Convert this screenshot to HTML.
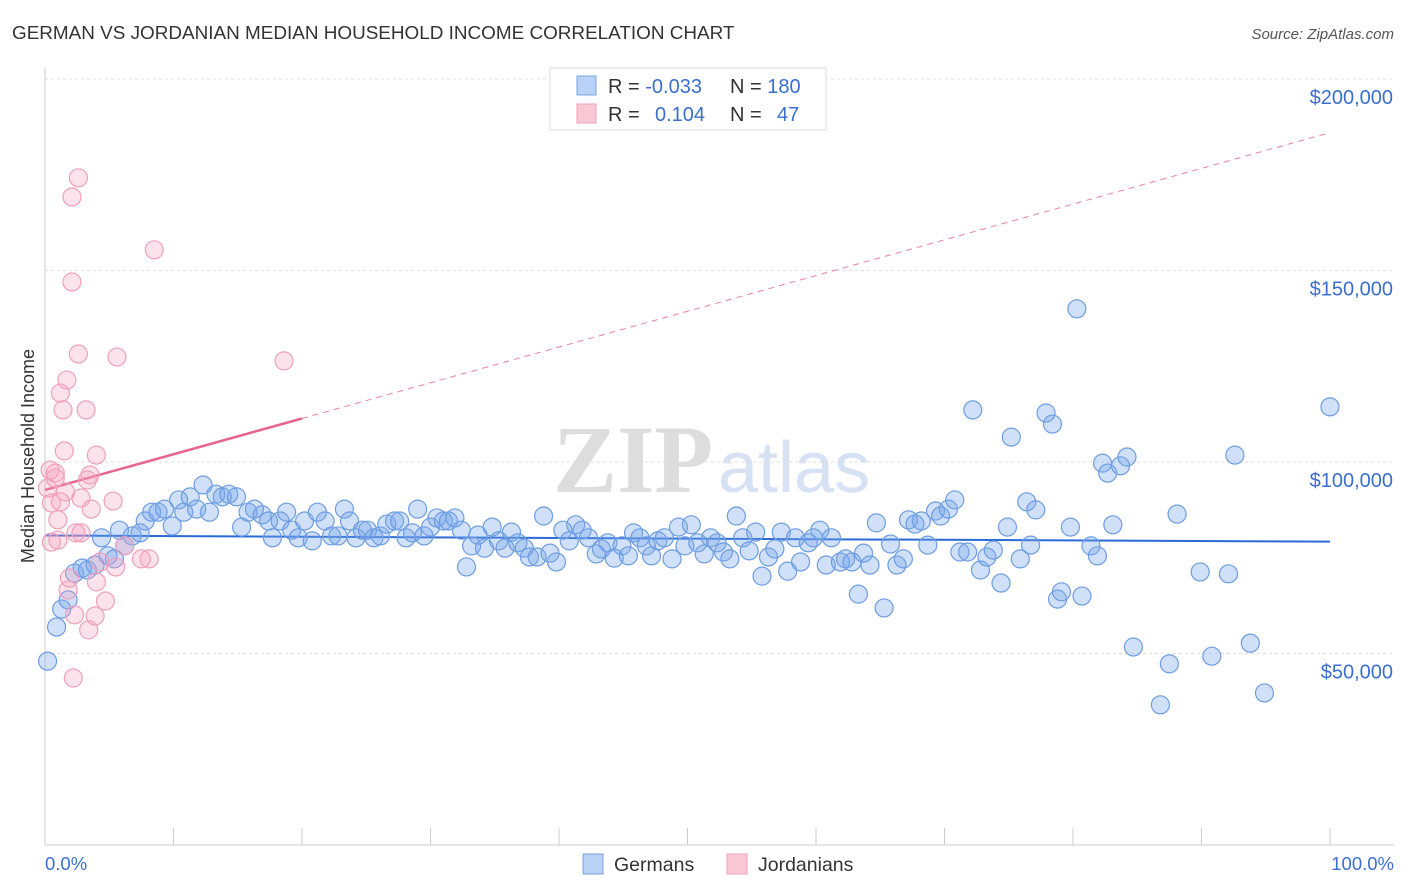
<!DOCTYPE html>
<html><head><meta charset="utf-8"><style>
body{margin:0;background:#fff;font-family:"Liberation Sans",sans-serif}
svg{display:block}
</style></head><body>
<svg id="c" width="1406" height="892" xmlns="http://www.w3.org/2000/svg">
<text x="12" y="39" font-size="18.9" fill="#333">GERMAN VS JORDANIAN MEDIAN HOUSEHOLD INCOME CORRELATION CHART</text>
<text x="1394" y="39" font-size="15" fill="#555" font-style="italic" text-anchor="end">Source: ZipAtlas.com</text>
<g><text x="553" y="492" font-size="96" fill="#ddd" font-family="Liberation Serif" font-weight="bold">ZIP</text><text x="718" y="492" font-size="72" fill="#d6e2f3">atlas</text></g>
<g id="grid"></g><g id="axes"></g><g id="trend"></g><g id="pts"></g>
<text x="34" y="456" font-size="18" fill="#333" text-anchor="middle" transform="rotate(-90 34 456)">Median Household Income</text>
<text x="45" y="870" font-size="18.5" fill="#3a6fd0">0.0%</text>
<text x="1394" y="870" font-size="18.5" fill="#3a6fd0" text-anchor="end">100.0%</text>
<g>
<rect x="550" y="68" width="276" height="62" fill="#fff" stroke="#ddd"/>
<rect x="577" y="76" width="19" height="19" fill="#b9d2f5" stroke="#7aa4e0"/>
<rect x="577" y="104" width="19" height="19" fill="#f9c7d6" stroke="#f0a0bb"/>
<text x="608" y="93" font-size="20" fill="#333">R = <tspan fill="#3a6fd0">-0.033</tspan><tspan x="730">N = </tspan><tspan fill="#3a6fd0">180</tspan></text>
<text x="608" y="121" font-size="20" fill="#333">R = <tspan x="655" fill="#3a6fd0">0.104</tspan><tspan x="730">N = </tspan><tspan x="777" fill="#3a6fd0">47</tspan></text>
</g>
<g>
<rect x="583" y="854" width="20" height="20" fill="#b9d2f5" stroke="#7aa4e0"/>
<text x="614" y="871" font-size="19.5" fill="#333">Germans</text>
<rect x="727" y="854" width="20" height="20" fill="#f9c7d6" stroke="#f0a0bb"/>
<text x="758" y="871" font-size="19.5" fill="#333">Jordanians</text>
</g>
</svg>
<script>
const yTicks=[50000,100000,150000,200000];
const yTickLabels=["$50,000","$100,000","$150,000","$200,000"];
const xTicks=[0,10,20,30,40,50,60,70,80,90,100];
const germanX=[0.2,0.9,1.3,1.8,2.3,2.9,3.3,3.9,4.4,4.9,5.4,5.8,6.2,6.8,7.4,7.8,8.3,8.8,9.3,9.9,10.4,10.8,11.3,11.8,12.3,12.8,13.3,13.8,14.3,14.9,15.3,15.8,16.3,16.9,17.4,17.7,18.3,18.8,19.2,19.7,20.2,20.8,21.2,21.8,22.3,22.8,23.3,23.7,24.2,24.7,25.1,25.6,26.1,26.6,27.2,27.6,28.1,28.6,29.0,29.5,30.0,30.5,31.0,31.4,31.9,32.4,32.8,33.2,33.7,34.2,34.8,35.3,35.8,36.3,36.8,37.3,37.7,38.3,38.8,39.3,39.8,40.3,40.8,41.3,41.8,42.3,42.9,43.3,43.8,44.3,44.9,45.4,45.8,46.3,46.8,47.2,47.7,48.2,48.8,49.3,49.8,50.3,50.8,51.3,51.8,52.3,52.8,53.3,53.8,54.3,54.8,55.3,55.8,56.3,56.8,57.3,57.8,58.4,58.8,59.4,59.8,60.3,60.8,61.2,61.9,62.3,62.8,63.3,63.7,64.2,64.7,65.3,65.8,66.3,66.8,67.2,67.7,68.2,68.7,69.3,69.7,70.3,70.8,71.2,71.8,72.2,72.8,73.3,73.8,74.4,74.9,75.2,75.9,76.4,76.7,77.1,77.9,78.4,78.8,79.1,79.8,80.3,80.7,81.4,81.9,82.3,82.7,83.1,83.7,84.2,84.7,86.8,87.5,88.1,89.9,90.8,92.1,92.6,93.8,94.9,100];
const germanY=[48.0,56.9,61.6,64.0,71.0,72.3,71.8,73.1,80.2,75.5,74.7,82.2,78.1,80.7,81.5,84.6,86.9,86.9,87.7,83.3,90.1,86.9,90.9,87.7,94.0,86.9,91.6,90.9,91.6,90.9,83.0,86.9,87.7,86.2,84.6,80.2,84.6,86.9,82.2,80.2,84.6,79.4,86.9,84.6,80.7,80.7,87.7,84.6,80.2,82.2,82.2,80.2,80.7,83.8,84.6,84.6,80.2,81.5,87.7,80.7,83.0,85.4,84.6,84.6,85.4,82.2,72.6,78.1,80.9,77.5,83.0,79.4,77.5,81.7,78.9,77.5,75.2,75.2,85.9,76.2,73.9,82.2,79.4,83.6,82.2,80.2,76.0,77.3,78.9,74.9,78.1,75.5,81.5,80.2,78.1,75.5,79.4,80.2,74.7,83.0,78.1,83.6,78.9,76.0,80.2,78.9,76.5,74.7,85.9,80.2,76.8,81.7,70.2,75.2,77.3,81.7,71.5,80.2,73.9,78.9,80.2,82.2,73.1,80.2,73.9,74.7,73.9,65.5,76.2,73.1,84.1,61.9,78.6,73.1,74.7,84.9,83.8,84.6,78.3,87.2,85.9,87.7,90.1,76.5,76.5,113.6,71.8,75.2,77.0,68.4,83.0,106.5,74.7,89.6,78.3,87.5,112.8,109.9,64.2,66.1,83.0,140.0,65.0,78.1,75.5,99.7,97.1,83.6,99.0,101.3,51.7,36.6,47.3,86.4,71.3,49.3,70.8,101.8,52.7,39.7,114.4];
const jordanX=[0.2,0.5,0.8,1.0,1.2,1.4,1.5,1.7,1.9,2.1,2.1,2.3,2.2,2.4,2.6,2.6,2.8,3.2,3.4,3.6,3.9,4.0,3.5,4.0,4.3,4.7,5.3,5.6,5.5,6.2,7.5,8.1,8.5,18.6,0.4,0.8,1.2,3.3,1.6,0.5,1.8,1.0,2.8];
const jordanY=[93.2,79.1,95.8,84.9,118.0,113.6,102.9,121.4,69.7,169.2,147.0,60.1,43.6,81.5,174.2,128.2,90.6,113.6,56.2,87.7,59.8,68.7,96.6,101.8,73.9,63.7,89.8,127.4,72.6,78.1,74.7,74.7,155.4,126.4,97.9,97.1,89.6,95.3,92.2,89.3,66.6,79.6,81.5];
const germanTrend=[80.8,79.2];
const jordanTrend=[92.7,186.0];
const NS="http://www.w3.org/2000/svg";
const X=p=>45+p*12.85;
const Y=v=>845-v*3.83;
function mk(t,a,parent){const e=document.createElementNS(NS,t);for(const k in a)e.setAttribute(k,a[k]);document.getElementById(parent).appendChild(e);return e;}
yTicks.forEach((v,i)=>{
 const yy=Y(v/1000);
 const l=mk('line',{x1:45,x2:1394,y1:yy,y2:yy,stroke:'#ddd','stroke-dasharray':'3,3'},'grid');
 
 
 const t=mk('text',{x:1393,y:yy+25,'font-size':20,fill:'#3a6fd0','text-anchor':'end'},'grid');
 t.textContent=yTickLabels[i];
 
 
});
const ax=mk('line',{x1:45,x2:1394,y1:845,y2:845,stroke:'#ccc'},'axes');


const ay=mk('line',{x1:45,x2:45,y1:68,y2:845,stroke:'#ccc'},'axes');


xTicks.forEach(p=>{
 const t=mk('line',{x1:X(p),x2:X(p),y1:828,y2:845,stroke:'#ccc'},'axes');
 
 
});
const gt=mk('line',{x1:X(0),y1:Y(germanTrend[0]),x2:X(100),y2:Y(germanTrend[1]),stroke:'#2a6ad6','stroke-width':2},'trend');


const jy=p=>jordanTrend[0]+(jordanTrend[1]-jordanTrend[0])*p/100;
const jd=mk('line',{x1:X(20),y1:Y(jy(20)),x2:X(100),y2:Y(jy(100)),stroke:'#e8829f','stroke-width':1,'stroke-dasharray':'6,5'},'trend');


const js=mk('line',{x1:X(0),y1:Y(jy(0)),x2:X(20),y2:Y(jy(20)),stroke:'#e8648c','stroke-width':2.5},'trend');


germanX.forEach((p,i)=>{
 const c=mk('circle',{cx:X(p),cy:Y(germanY[i]),r:9,fill:'rgba(120,165,235,0.35)',stroke:'#6d9de2','stroke-width':1.2},'pts');
 
 
});
jordanX.forEach((p,i)=>{
 const c=mk('circle',{cx:X(p),cy:Y(jordanY[i]),r:9,fill:'rgba(245,160,190,0.3)',stroke:'#f0a0bb','stroke-width':1.2},'pts');
 
 
});
</script>
</body></html>
